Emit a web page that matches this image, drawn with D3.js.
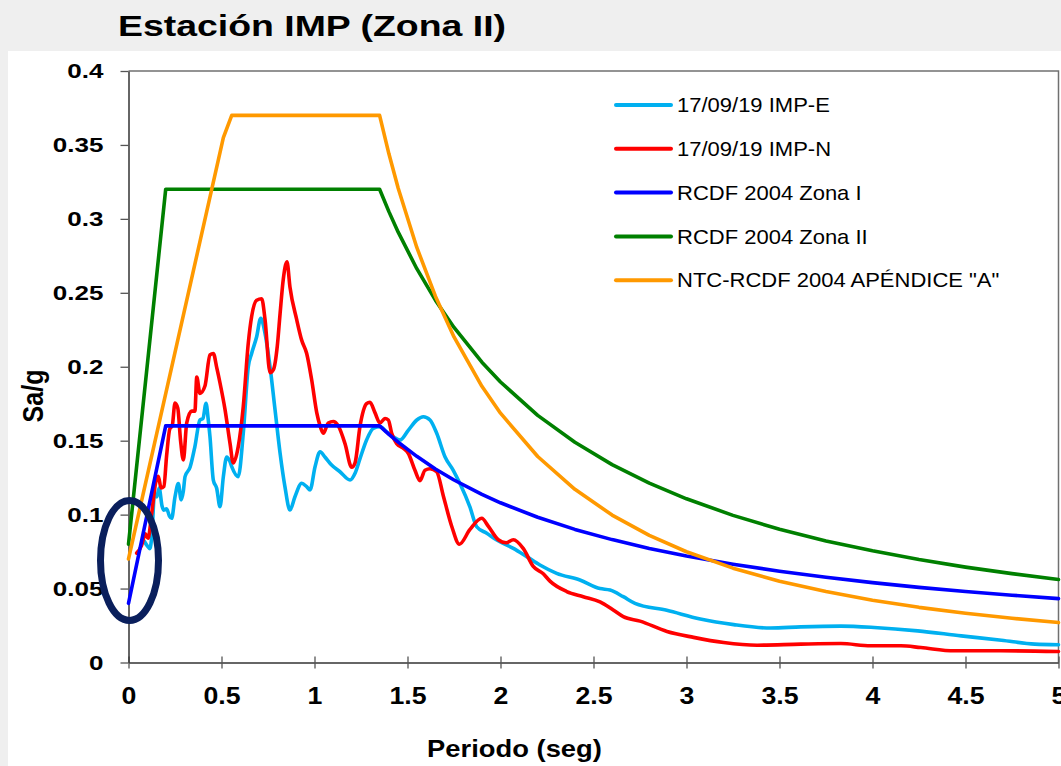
<!DOCTYPE html>
<html>
<head>
<meta charset="utf-8">
<script src="https://cdn.jsdelivr.net/npm/d3@7"></script>
<style>
  html, body { margin: 0; padding: 0; background: #efefef; }
  svg { display: block; font-family: "Liberation Sans", Arial, sans-serif; }
</style>
</head>
<body>
<svg width="1061" height="766"></svg>
<script>
// tick labels
var xTicks = [0, 0.5, 1, 1.5, 2, 2.5, 3, 3.5, 4, 4.5, 5];
var xTickLabels = ["0", "0.5", "1", "1.5", "2", "2.5", "3", "3.5", "4", "4.5", "5"];
var yTicks = [0, 0.05, 0.1, 0.15, 0.2, 0.25, 0.3, 0.35, 0.4];
var yTickLabels = ["0", "0.05", "0.1", "0.15", "0.2", "0.25", "0.3", "0.35", "0.4"];

var legendNames = ["17/09/19 IMP-E", "17/09/19 IMP-N", "RCDF 2004 Zona I",
    "RCDF 2004 Zona II", "NTC-RCDF 2004 APÉNDICE \"A\""];

// 17/09/19 IMP-E
var periodE = [0.085, 0.1, 0.115, 0.125, 0.14, 0.152, 0.165, 0.18, 0.19, 0.205, 0.22, 0.232, 0.25, 0.268,
    0.283, 0.295, 0.304, 0.331, 0.357, 0.384, 0.4, 0.417, 0.428, 0.438, 0.456, 0.474, 0.492, 0.51, 0.528,
    0.545, 0.555, 0.59, 0.617, 0.644, 0.662, 0.689, 0.711, 0.734, 0.761, 0.788, 0.815, 0.841, 0.868,
    0.895, 0.931, 0.958, 0.976, 1.003, 1.03, 1.056, 1.092, 1.137, 1.191, 1.218, 1.245, 1.28, 1.316,
    1.352, 1.388, 1.424, 1.46, 1.504, 1.55, 1.585, 1.621, 1.657, 1.702, 1.746, 1.782, 1.836, 1.872,
    1.926, 1.98, 2.069, 2.141, 2.212, 2.302, 2.427, 2.535, 2.589, 2.66, 2.723, 2.894, 3.074, 3.254,
    3.452, 3.614, 3.83, 4.009, 4.243, 4.477, 4.693, 4.873, 5.0];
var saE = [0.082, 0.079, 0.077, 0.085, 0.114, 0.112, 0.118, 0.106, 0.103, 0.104, 0.099, 0.0975, 0.112, 0.121,
    0.110, 0.116, 0.1257, 0.132, 0.146, 0.164, 0.165, 0.1753, 0.165, 0.1527, 0.1234, 0.1178, 0.1054, 0.1257, 0.139,
    0.136, 0.1324, 0.1257, 0.155, 0.200, 0.209, 0.2203, 0.2328, 0.2226, 0.200, 0.1707, 0.1415, 0.1189, 0.1031,
    0.1121, 0.1212, 0.1189, 0.1167, 0.1324, 0.1425, 0.139, 0.1335, 0.129, 0.1234, 0.128, 0.138, 0.1505, 0.1584,
    0.1595, 0.156, 0.1527, 0.1505, 0.157, 0.164, 0.1662, 0.164, 0.155, 0.139, 0.130, 0.121, 0.105, 0.0918,
    0.0874, 0.0828, 0.0772, 0.0716, 0.0659, 0.0603, 0.0558, 0.0500, 0.049, 0.0445, 0.040, 0.0353, 0.0294, 0.0256,
    0.0233, 0.0241, 0.0246, 0.0237, 0.0214, 0.018, 0.0151, 0.0124, 0.012];

// 17/09/19 IMP-N
var periodN = [0.044, 0.07, 0.09, 0.105, 0.125, 0.145, 0.16, 0.175, 0.19, 0.205, 0.222, 0.235, 0.25, 0.265,
    0.28, 0.295, 0.313, 0.34, 0.357, 0.367, 0.384, 0.411, 0.438, 0.456, 0.475, 0.492, 0.519, 0.546, 0.563,
    0.59, 0.617, 0.644, 0.662, 0.689, 0.716, 0.734, 0.761, 0.779, 0.8, 0.815, 0.832, 0.852, 0.868, 0.904,
    0.931, 0.958, 0.985, 1.012, 1.03, 1.047, 1.074, 1.101, 1.128, 1.164, 1.2, 1.218, 1.245, 1.28, 1.298,
    1.325, 1.352, 1.379, 1.397, 1.415, 1.442, 1.477, 1.504, 1.54, 1.567, 1.594, 1.621, 1.657, 1.692, 1.738,
    1.779, 1.836, 1.899, 1.935, 1.988, 2.03, 2.069, 2.123, 2.176, 2.23, 2.266, 2.356, 2.445, 2.535, 2.606,
    2.66, 2.75, 2.895, 3.038, 3.2, 3.38, 3.614, 3.83, 3.99, 4.153, 4.26, 4.44, 4.69, 5.0];
var saN = [0.074, 0.079, 0.087, 0.084, 0.101, 0.121, 0.126, 0.118, 0.119, 0.140, 0.158, 0.160, 0.1755, 0.172,
    0.150, 0.137, 0.162, 0.170, 0.170, 0.193, 0.182, 0.187, 0.208, 0.209, 0.199, 0.189, 0.171, 0.148, 0.135,
    0.146, 0.173, 0.216, 0.234, 0.245, 0.246, 0.232, 0.196, 0.198, 0.214, 0.236, 0.259, 0.271, 0.254, 0.232,
    0.218, 0.209, 0.191, 0.169, 0.160, 0.155, 0.162, 0.163, 0.160, 0.148, 0.132, 0.135, 0.160, 0.175, 0.176,
    0.169, 0.162, 0.165, 0.164, 0.155, 0.148, 0.145, 0.1415, 0.130, 0.123, 0.130, 0.131, 0.129, 0.113, 0.092,
    0.080, 0.090, 0.0975, 0.092, 0.083, 0.081, 0.083, 0.077, 0.065, 0.060, 0.055, 0.048, 0.0445, 0.041, 0.0355,
    0.031, 0.028, 0.021, 0.017, 0.0135, 0.0117, 0.0124, 0.0128, 0.0113, 0.0113, 0.0101, 0.0079, 0.0079, 0.0074];

// RCDF 2004 Zona I
var periodZonaI = [0, 0.2, 1.35, 1.4, 1.45, 1.55, 1.65, 1.75, 1.9, 2.0, 2.2, 2.4, 2.6, 2.8, 3.0, 3.25, 3.5,
    3.75, 4.0, 4.25, 4.5, 4.75, 5.0];
var saZonaI = [0.04, 0.16, 0.16, 0.1543, 0.149, 0.1394, 0.1309, 0.1234, 0.1137, 0.108, 0.0982, 0.09, 0.0831,
    0.0771, 0.072, 0.0665, 0.0617, 0.0576, 0.054, 0.0508, 0.048, 0.0455, 0.0432];

// RCDF 2004 Zona II
var periodZonaII = [0, 0.2, 1.35, 1.4, 1.45, 1.55, 1.65, 1.75, 1.9, 2.0, 2.2, 2.4, 2.6, 2.8, 3.0, 3.25, 3.5,
    3.75, 4.0, 4.25, 4.5, 4.75, 5.0];
var saZonaII = [0.08, 0.32, 0.32, 0.3049, 0.291, 0.2663, 0.245, 0.2266, 0.2031, 0.1897, 0.1671, 0.1489, 0.1338,
    0.1213, 0.1107, 0.0995, 0.0901, 0.0822, 0.0755, 0.0696, 0.0645, 0.0601, 0.0561];

// NTC-RCDF 2004 Apendice A
var periodApA = [0, 0.51, 0.555, 1.35, 1.4, 1.45, 1.55, 1.65, 1.75, 1.9, 2.0, 2.2, 2.4, 2.6, 2.8, 3.0, 3.25,
    3.5, 3.75, 4.0, 4.25, 4.5, 4.75, 5.0];
var saApA = [0.07, 0.355, 0.37, 0.37, 0.344, 0.3207, 0.2807, 0.2477, 0.2202, 0.1868, 0.1686, 0.1393, 0.1171,
    0.0997, 0.086, 0.0749, 0.0638, 0.055, 0.048, 0.0421, 0.0373, 0.0333, 0.0299, 0.027];

var svg = d3.select("svg"),
    width = +svg.attr("width"),
    height = +svg.attr("height");

var x = d3.scaleLinear()
    .domain([0, 5])
    .range([128.5, 1058.5]);

var y = d3.scaleLinear()
    .domain([0, 0.4])
    .range([662.5, 71]);

// slide background + white chart panel
svg.append("rect")
    .attr("width", width)
    .attr("height", height)
    .attr("fill", "#efefef");
svg.append("rect")
    .attr("x", 8)
    .attr("y", 51)
    .attr("width", width - 8)
    .attr("height", height - 51)
    .attr("fill", "#fff");

// plot frame (top + right)
svg.append("path")
    .attr("d", "M" + x(0) + "," + y(0.4) + "H" + x(5) + "V" + y(0))
    .attr("fill", "none")
    .attr("stroke", "#707070")
    .attr("stroke-width", 1.5);

var yAxis = d3.axisLeft(y)
    .tickValues(yTicks)
    .tickFormat(d => yTickLabels[yTicks.indexOf(d)])
    .tickSize(8)
    .tickSizeOuter(0)
    .tickPadding(12.2);

var xAxis = d3.axisBottom(x)
    .tickValues(xTicks)
    .tickFormat(d => xTickLabels[xTicks.indexOf(d)])
    .tickSize(6)
    .tickSizeOuter(0);

var gX = svg.append("g")
    .attr("transform", "translate(0," + y(0) + ")")
    .call(xAxis);
gX.attr("font-family", null).attr("font-size", 23).attr("font-weight", "bold");
gX.select(".domain").attr("stroke", "#333").attr("stroke-width", 1.5);
gX.selectAll(".tick line").attr("y1", -6).attr("y2", 6).attr("stroke", "#555").attr("stroke-width", 1.3);
gX.selectAll(".tick text")
    .attr("fill", "#000")
    .attr("y", 41.5)
    .attr("dy", 0)
    .attr("transform", "scale(1.16,1)");

var gY = svg.append("g")
    .attr("transform", "translate(" + x(0) + ",0)")
    .call(yAxis);
gY.attr("font-family", null).attr("font-size", 21).attr("font-weight", "bold");
gY.select(".domain").attr("stroke", "#333").attr("stroke-width", 1.5);
gY.selectAll(".tick line").attr("stroke", "#555").attr("stroke-width", 1.3);
gY.selectAll(".tick text")
    .attr("fill", "#000")
    .attr("transform", "scale(1.24,1)");

var series = [
    { name: legendNames[0], color: "#00b0f0", t: periodE, v: saE, curve: d3.curveMonotoneX },
    { name: legendNames[1], color: "#ff0000", t: periodN, v: saN, curve: d3.curveMonotoneX },
    { name: legendNames[2], color: "#0000ff", t: periodZonaI, v: saZonaI, curve: d3.curveLinear },
    { name: legendNames[3], color: "#008000", t: periodZonaII, v: saZonaII, curve: d3.curveLinear },
    { name: legendNames[4], color: "#ff9900", t: periodApA, v: saApA, curve: d3.curveLinear }
];

var g = svg.append("g");

series.forEach(s => {
    var line = d3.line()
        .x(d => x(d[0]))
        .y(d => y(d[1]))
        .curve(s.curve);
    g.append("path")
        .attr("d", line(d3.zip(s.t, s.v)))
        .attr("fill", "none")
        .attr("stroke", s.color)
        .attr("stroke-width", 3.6)
        .attr("stroke-linejoin", "round")
        .attr("stroke-linecap", "round");
});

// legend
var legend = svg.append("g")
    .attr("transform", "translate(616,105)");

var row = legend.selectAll("g")
    .data(series)
    .join("g")
    .attr("transform", (d, i) => "translate(0," + (i * 43.8) + ")");

row.append("line")
    .attr("x1", 0)
    .attr("x2", 55)
    .attr("stroke", d => d.color)
    .attr("stroke-width", 4)
    .attr("stroke-linecap", "round");

row.append("text")
    .attr("transform", "translate(61,0) scale(1.1,1)")
    .attr("dy", "0.36em")
    .attr("font-size", 20)
    .attr("fill", "#000")
    .text(d => d.name);

// titles
svg.append("text")
    .attr("transform", "translate(118,36) scale(1.29,1)")
    .attr("font-size", 29)
    .attr("font-weight", "bold")
    .text("Estación IMP (Zona II)");

svg.append("text")
    .attr("transform", "translate(514.5,756.5) scale(1.19,1)")
    .attr("text-anchor", "middle")
    .attr("font-size", 23)
    .attr("font-weight", "bold")
    .text("Periodo (seg)");

svg.append("text")
    .attr("transform", "translate(43,396) scale(1.15,1) rotate(-90)")
    .attr("text-anchor", "middle")
    .attr("font-size", 25)
    .attr("font-weight", "bold")
    .text("Sa/g");

// highlight at T = 0
svg.append("ellipse")
    .attr("cx", x(0) + 1)
    .attr("cy", y(0.069))
    .attr("rx", 29)
    .attr("ry", 60)
    .attr("fill", "none")
    .attr("stroke", "#0a1f5c")
    .attr("stroke-width", 7);
</script>
</body>
</html>
